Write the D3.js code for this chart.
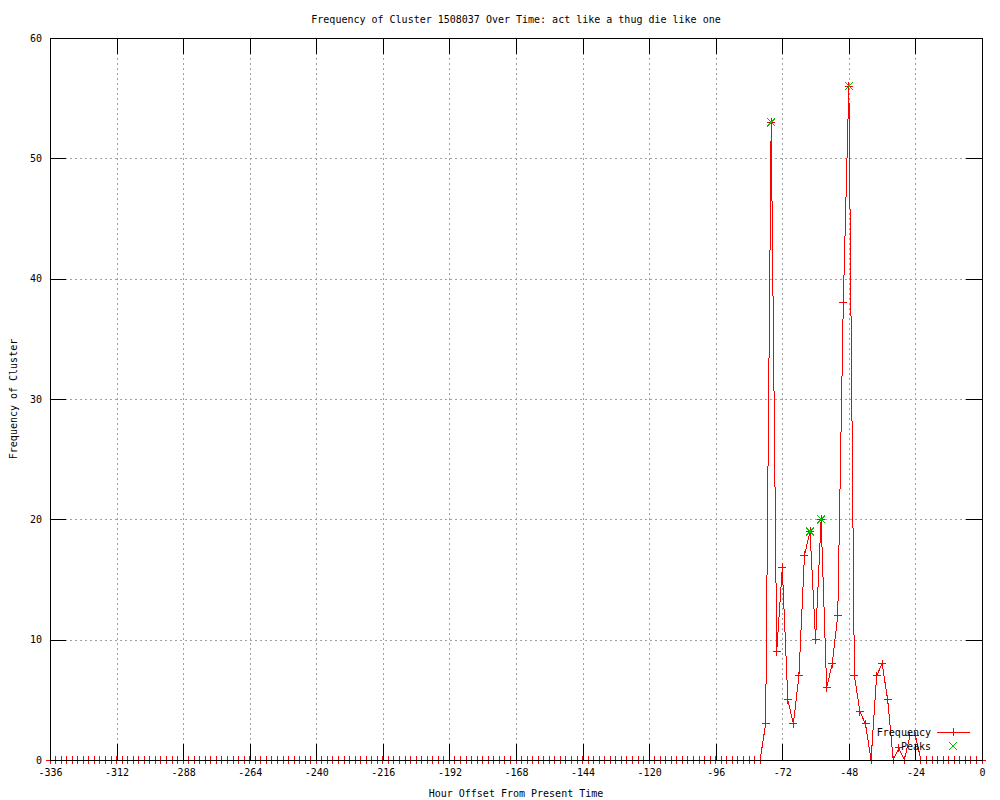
<!DOCTYPE html>
<html>
<head>
<meta charset="utf-8">
<script src="https://cdn.jsdelivr.net/npm/d3@7"></script>
<style>
    body { margin: 0; background: #fff; }
    svg text { font-family: "DejaVu Sans Mono", monospace; font-size: 10px; fill: #000; }
    .grid line { stroke: #a0a0a0; stroke-dasharray: 2,3; }
    .ticks line { stroke: #000; }
</style>
</head>
<body>
<div id="chart"></div>
<script>
// Hours, every 2h from -336 to 0
const hours = [
    -336, -334, -332, -330, -328, -326, -324, -322, -320, -318, -316, -314,
    -312, -310, -308, -306, -304, -302, -300, -298, -296, -294, -292, -290,
    -288, -286, -284, -282, -280, -278, -276, -274, -272, -270, -268, -266,
    -264, -262, -260, -258, -256, -254, -252, -250, -248, -246, -244, -242,
    -240, -238, -236, -234, -232, -230, -228, -226, -224, -222, -220, -218,
    -216, -214, -212, -210, -208, -206, -204, -202, -200, -198, -196, -194,
    -192, -190, -188, -186, -184, -182, -180, -178, -176, -174, -172, -170,
    -168, -166, -164, -162, -160, -158, -156, -154, -152, -150, -148, -146,
    -144, -142, -140, -138, -136, -134, -132, -130, -128, -126, -124, -122,
    -120, -118, -116, -114, -112, -110, -108, -106, -104, -102, -100, -98,
    -96, -94, -92, -90, -88, -86, -84, -82, -80, -78, -76, -74,
    -72, -70, -68, -66, -64, -62, -60, -58, -56, -54, -52, -50,
    -48, -46, -44, -42, -40, -38, -36, -34, -32, -30, -28, -26,
    -24, -22, -20, -18, -16, -14, -12, -10, -8, -6, -4, -2,
    0
];

const frequency = [
    0, 0, 0, 0, 0, 0, 0, 0, 0, 0, 0, 0,
    0, 0, 0, 0, 0, 0, 0, 0, 0, 0, 0, 0,
    0, 0, 0, 0, 0, 0, 0, 0, 0, 0, 0, 0,
    0, 0, 0, 0, 0, 0, 0, 0, 0, 0, 0, 0,
    0, 0, 0, 0, 0, 0, 0, 0, 0, 0, 0, 0,
    0, 0, 0, 0, 0, 0, 0, 0, 0, 0, 0, 0,
    0, 0, 0, 0, 0, 0, 0, 0, 0, 0, 0, 0,
    0, 0, 0, 0, 0, 0, 0, 0, 0, 0, 0, 0,
    0, 0, 0, 0, 0, 0, 0, 0, 0, 0, 0, 0,
    0, 0, 0, 0, 0, 0, 0, 0, 0, 0, 0, 0,
    0, 0, 0, 0, 0, 0, 0, 0, 0, 3, 53, 9,
    16, 5, 3, 7, 17, 19, 10, 20, 6, 8, 12, 38,
    56, 7, 4, 3, 0, 7, 8, 5, 0, 1, 0, 2,
    2, 0, 0, 0, 0, 0, 0, 0, 0, 0, 0, 0,
    0
];

const peakHours = [-76, -62, -58, -48];
const peakValues = [53, 19, 20, 56];

const xTicks = [-336, -312, -288, -264, -240, -216, -192, -168, -144, -120, -96, -72, -48, -24, 0];
const yTicks = [0, 10, 20, 30, 40, 50, 60];

const titleText = 'Frequency of Cluster 1508037 Over Time: act like a thug die like one';
const xLabel = 'Hour Offset From Present Time';
const yLabel = 'Frequency of Cluster';

const width = 1000, height = 800;
const margin = {top: 38, right: 18, bottom: 40, left: 50};
const plotW = width - margin.left - margin.right;
const plotH = height - margin.top - margin.bottom;

const svg = d3.select('#chart').append('svg')
    .attr('width', width)
    .attr('height', height)
    .attr('shape-rendering', 'crispEdges');

const g = svg.append('g')
    .attr('transform', `translate(${margin.left},${margin.top})`);

const x = d3.scaleLinear().domain([-336, 0]).range([0, plotW]);
const y = d3.scaleLinear().domain([0, 60]).range([plotH, 0]);

// Grid (inner ticks only)
const inner = a => a.slice(1, -1);
g.append('g')
    .attr('class', 'grid')
    .attr('transform', `translate(0,${plotH})`)
    .call(d3.axisBottom(x).tickValues(inner(xTicks)).tickSize(-plotH).tickFormat(''))
    .call(s => s.select('.domain').remove());
g.append('g')
    .attr('class', 'grid')
    .call(d3.axisLeft(y).tickValues(inner(yTicks)).tickSize(-plotW).tickFormat(''))
    .call(s => s.select('.domain').remove());

// Data
const points = hours.map((h, i) => ({h: h, v: frequency[i]}));
const peaks = peakHours.map((h, i) => ({h: h, v: peakValues[i]}));

const plus = 'M-4,0H4M0,-4V4';
const cross = 'M-4,-4L4,4M-4,4L4,-4';

g.append('path')
    .datum(points)
    .attr('fill', 'none')
    .attr('stroke', '#ff0000')
    .attr('stroke-width', 1)
    .attr('d', d3.line().x(d => x(d.h)).y(d => y(d.v)));

g.selectAll('path.pt')
    .data(points)
    .enter()
    .append('path')
    .attr('class', 'pt')
    .attr('transform', d => `translate(${x(d.h)},${y(d.v)})`)
    .attr('d', plus)
    .attr('stroke', '#ff0000')
    .attr('fill', 'none');

g.selectAll('path.peak')
    .data(peaks)
    .enter()
    .append('path')
    .attr('class', 'peak')
    .attr('transform', d => `translate(${x(d.h)},${y(d.v)})`)
    .attr('d', cross)
    .attr('stroke', '#00c000')
    .attr('fill', 'none');

// Ticks, pointing inward on all four sides
const tickLen = 16;
g.append('g')
    .attr('class', 'ticks')
    .attr('transform', `translate(0,${plotH})`)
    .call(d3.axisBottom(x).tickValues(xTicks).tickSize(-tickLen).tickPadding(9).tickFormat(d => String(d)))
    .call(s => s.select('.domain').remove())
    .call(s => s.selectAll('text').attr('font-family', null).attr('font-size', null));
g.append('g')
    .attr('class', 'ticks')
    .call(d3.axisTop(x).tickValues(xTicks).tickSize(-tickLen).tickFormat(''))
    .call(s => s.select('.domain').remove());
g.append('g')
    .attr('class', 'ticks')
    .call(d3.axisLeft(y).tickValues(yTicks).tickSize(-tickLen).tickPadding(8))
    .call(s => s.select('.domain').remove())
    .call(s => s.selectAll('text').attr('font-family', null).attr('font-size', null));
g.append('g')
    .attr('class', 'ticks')
    .attr('transform', `translate(${plotW},0)`)
    .call(d3.axisRight(y).tickValues(yTicks).tickSize(-tickLen).tickFormat(''))
    .call(s => s.select('.domain').remove());

// Border
g.append('rect')
    .attr('width', plotW)
    .attr('height', plotH)
    .attr('fill', 'none')
    .attr('stroke', '#000');

// Legend
const legend = svg.append('g').attr('transform', 'translate(931,732)');
legend.append('text').attr('x', 0).attr('y', 0).attr('dy', '0.35em')
    .attr('text-anchor', 'end').text('Frequency');
legend.append('line').attr('x1', 6).attr('x2', 39).attr('y1', 0).attr('y2', 0)
    .attr('stroke', '#ff0000');
legend.append('path').attr('transform', 'translate(22,0)').attr('d', plus)
    .attr('stroke', '#ff0000');
legend.append('text').attr('x', 0).attr('y', 14).attr('dy', '0.35em')
    .attr('text-anchor', 'end').text('Peaks');
legend.append('path').attr('transform', 'translate(22,14)').attr('d', cross)
    .attr('stroke', '#00c000');

// Titles
svg.append('text')
    .attr('x', margin.left + plotW / 2)
    .attr('y', 19)
    .attr('dy', '0.35em')
    .attr('text-anchor', 'middle')
    .text(titleText);

svg.append('text')
    .attr('x', margin.left + plotW / 2)
    .attr('y', 793)
    .attr('dy', '0.35em')
    .attr('text-anchor', 'middle')
    .text(xLabel);

svg.append('text')
    .attr('transform', `translate(13,${margin.top + plotH / 2}) rotate(-90)`)
    .attr('dy', '0.35em')
    .attr('text-anchor', 'middle')
    .text(yLabel);
</script>
</body>
</html>
